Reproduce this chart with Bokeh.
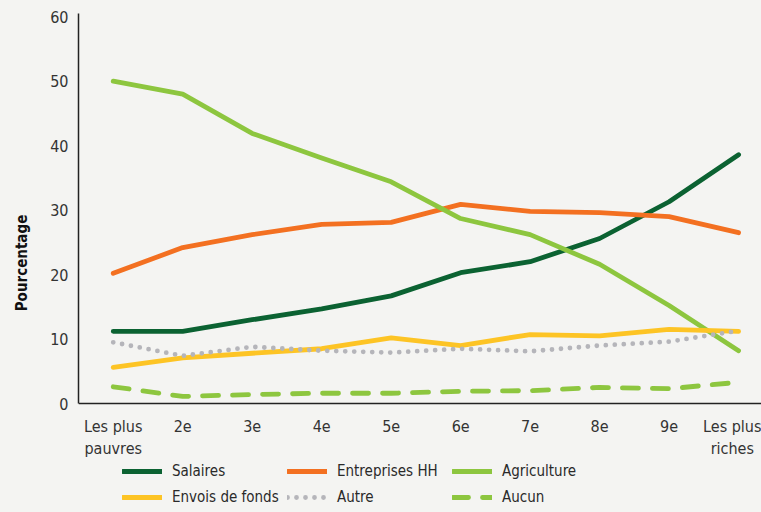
from bokeh.plotting import figure
from bokeh.models import Range1d, FixedTicker, Legend, LegendItem
from bokeh.embed import file_html
from bokeh.resources import INLINE

categories = ["Les plus\npauvres", "2e", "3e", "4e", "5e", "6e", "7e", "8e", "9e", "Les plus\nriches"]
salaires = [11.2, 11.2, 13.0, 14.7, 16.7, 20.3, 22.0, 25.6, 31.3, 38.6]
entreprises = [20.2, 24.2, 26.2, 27.8, 28.1, 30.9, 29.8, 29.6, 29.0, 26.5]
agriculture = [50.0, 48.0, 41.9, 38.1, 34.4, 28.7, 26.2, 21.6, 15.2, 8.2]
envois = [5.6, 7.1, 7.8, 8.5, 10.2, 9.0, 10.7, 10.5, 11.5, 11.2]
autre = [9.5, 7.4, 8.8, 8.2, 7.9, 8.5, 8.1, 9.0, 9.6, 11.3]
aucun = [2.6, 1.1, 1.4, 1.6, 1.6, 1.9, 2.0, 2.5, 2.3, 3.3]
y_ticks = [0, 10, 20, 30, 40, 50, 60]

FONT = "Liberation Sans Narrow, DejaVu Sans Condensed, sans-serif"
BG = "#f4f4f2"

xs = list(range(len(categories)))

p = figure(width=761, height=512, output_backend="svg", toolbar_location=None,
           x_range=Range1d(-0.5, 9.33), y_range=Range1d(-16.9, 60.5),
           min_border_left=78, min_border_right=0, min_border_top=13, min_border_bottom=0)
p.background_fill_color = BG
p.border_fill_color = BG
p.outline_line_color = None
p.grid.visible = False

series = [
    ("Salaires", salaires, "#0b6232", None),
    ("Entreprises HH", entreprises, "#f37021", None),
    ("Agriculture", agriculture, "#8dc63f", None),
    ("Envois de fonds", envois, "#fdc425", None),
    ("Autre", autre, "#b5b5ba", "0 9"),
    ("Aucun", aucun, "#8dc63f", "16 14"),
]

renderers = {}
for name, vals, color, dash in series:
    kw = dict(line_color=color, line_width=4.8, line_cap="round", line_join="round")
    if dash:
        kw["line_dash"] = dash
    r = p.line(xs, vals, **kw)
    renderers[name] = r

order = ["Salaires", "Envois de fonds", "Entreprises HH", "Autre", "Agriculture", "Aucun"]
items = [LegendItem(label=n, renderers=[renderers[n]]) for n in order]
legend = Legend(items=items, location=(44, 5), ncols=3, nrows=2,
                glyph_width=40, glyph_height=20, label_standoff=10, label_width=109,
                spacing=6, padding=0, margin=0,
                label_text_font=FONT, label_text_font_size="15px", label_text_color="#2a2a2a",
                background_fill_alpha=0, border_line_color=None)
p.add_layout(legend, "center")

p.xaxis.ticker = FixedTicker(ticks=xs)
p.xaxis.major_label_overrides = {i: c for i, c in enumerate(categories)}
p.xaxis.fixed_location = 0
p.yaxis.ticker = FixedTicker(ticks=y_ticks)
p.yaxis.bounds = (0, 60.5)
for ax in (p.xaxis, p.yaxis):
    ax.major_tick_line_color = None
    ax.minor_tick_line_color = None
    ax.axis_line_color = "#222222"
    ax.axis_line_width = 1.5
    ax.major_label_text_font = FONT
    ax.major_label_text_font_size = "16px"
    ax.major_label_text_color = "#333333"
p.xaxis.major_label_standoff = 7
p.yaxis.major_label_standoff = 4
p.yaxis.axis_label = "Pourcentage"
p.yaxis.axis_label_text_font = FONT
p.yaxis.axis_label_text_font_style = "bold"
p.yaxis.axis_label_text_font_size = "15px"
p.yaxis.axis_label_text_color = "#111111"
p.yaxis.axis_label_standoff = 16

html = file_html(p, INLINE)
html = html.replace("<head>", "<head><style>body{background:#f4f4f2;}</style>", 1)
open("out.html", "w").write(html)
